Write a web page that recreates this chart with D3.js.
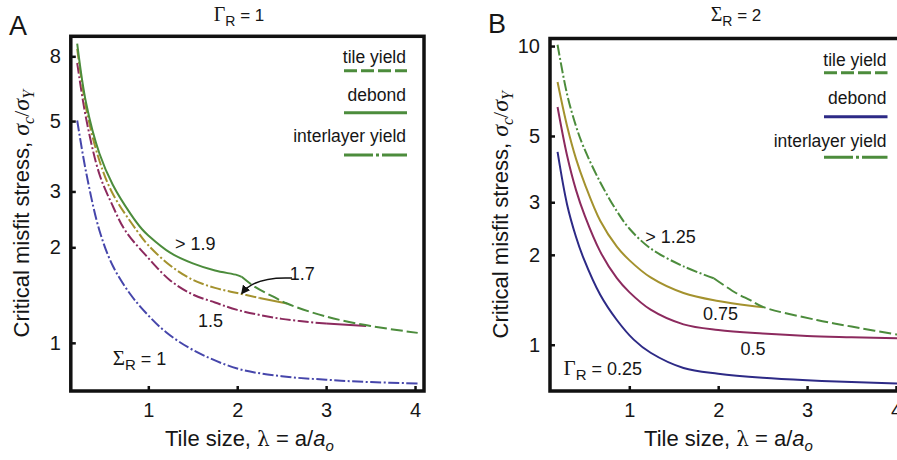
<!DOCTYPE html>
<html><head><meta charset="utf-8">
<script src="https://cdn.jsdelivr.net/npm/d3@7"></script>
<style>
body{margin:0;background:#fff}
svg{display:block}
text{font-family:"Liberation Sans",Arial,Helvetica,sans-serif;fill:#161616}
</style>
</head><body>
<svg id="c" width="897" height="460"></svg>
<script>
// ---------------- DATA ----------------
const ticksX = [1, 2, 3, 4];
const ticksYA = [1, 2, 3, 5, 8];
const ticksYB = [1, 2, 3, 5, 10];

// Panel A (Gamma_R = 1), series labelled by Sigma_R
const lamA_S1 = [0.2, 0.3, 0.45, 0.6, 0.8, 1.0, 1.2, 1.5, 2.0, 2.5, 3.0, 3.5, 4.03];
const valA_S1 = [5.02, 3.45, 2.26, 1.75, 1.42, 1.22, 1.08, 0.95, 0.83, 0.785, 0.765, 0.752, 0.745];
const lamA_S15 = [0.2, 0.3, 0.45, 0.6, 0.74, 1.0, 1.25, 1.5, 1.75, 2.0, 2.5, 3.0, 3.45];
const valA_S15 = [7.62, 5.1, 3.4, 2.7, 2.26, 1.85, 1.57, 1.42, 1.34, 1.27, 1.19, 1.15, 1.13];
const lamA_S17 = [0.2, 0.3, 0.45, 0.6, 0.87, 1.0, 1.25, 1.5, 1.75, 2.0, 2.25, 2.56];
const valA_S17 = [8.45, 5.5, 3.75, 2.95, 2.26, 2.03, 1.75, 1.58, 1.49, 1.435, 1.385, 1.33];
const lamA_S19 = [0.2, 0.3, 0.45, 0.6, 0.8, 0.93, 1.0, 1.25, 1.5, 1.75, 2.0, 2.05, 2.2, 2.4, 2.56, 3.0, 3.5, 4.03];
const valA_S19 = [8.77, 5.7, 3.95, 3.15, 2.55, 2.28, 2.18, 1.92, 1.78, 1.69, 1.635, 1.615, 1.50, 1.40, 1.33, 1.21, 1.13, 1.075];

// failure-mode changes (lambda where the governing mode switches)
const breaksA_S1 = [],     modesA_S1 = ["interlayer"];
const breaksA_S15 = [3.0], modesA_S15 = ["interlayer", "debond"];
const breaksA_S17 = [2.25],modesA_S17 = ["interlayer", "debond"];
const breaksA_S19 = [2.05],modesA_S19 = ["debond", "tile"];

// Panel B (Sigma_R = 2), series labelled by Gamma_R
const lamB_G025 = [0.193, 0.3, 0.4, 0.485, 0.673, 0.86, 1.05, 1.24, 1.61, 2.0, 2.5, 3.0, 3.5, 4.1];
const valB_G025 = [4.42, 2.95, 2.3, 1.95, 1.47, 1.21, 1.04, 0.94, 0.836, 0.80, 0.775, 0.76, 0.75, 0.74];
const lamB_G05 = [0.193, 0.3, 0.4, 0.5, 0.673, 0.86, 1.0, 1.24, 1.61, 2.0, 2.5, 3.0, 3.5, 4.1];
const valB_G05 = [6.25, 4.3, 3.3, 2.7, 2.05, 1.67, 1.50, 1.31, 1.17, 1.12, 1.09, 1.07, 1.06, 1.05];
const lamB_G075 = [0.193, 0.3, 0.4, 0.5, 0.673, 0.86, 1.0, 1.24, 1.61, 2.0, 2.36, 2.51];
const valB_G075 = [7.58, 5.4, 4.2, 3.45, 2.6, 2.13, 1.92, 1.68, 1.49, 1.40, 1.35, 1.336];
const lamB_G125 = [0.193, 0.3, 0.4, 0.485, 0.673, 0.86, 1.0, 1.24, 1.61, 1.95, 2.2, 2.36, 2.51, 3.11, 3.5, 4.1];
const valB_G125 = [10.1, 6.9, 5.4, 4.6, 3.5, 2.8, 2.45, 2.1, 1.83, 1.67, 1.49, 1.41, 1.336, 1.21, 1.15, 1.07];

const breaksB_G025 = [], modesB_G025 = ["debond"];
const breaksB_G05 = [],  modesB_G05 = ["debond"];
const breaksB_G075 = [], modesB_G075 = ["debond"];
const breaksB_G125 = [1.95], modesB_G125 = ["interlayer", "tile"];

const legendLabels = ["tile yield", "debond", "interlayer yield"];
const legendModes = ["tile", "debond", "interlayer"];

// ---------------- STYLE ----------------
const C = {
  green: "#4c8c3c", purple: "#8c2a5e", olive: "#a4922e",
  blueA: "#4646ab", navy: "#2d2a86"
};
const dashes = { debond: null, tile: "12,4", interlayer: "11,2.5,2,2.5" };
const legendDashes = { debond: null, tile: "13,4", interlayer: "29,3,3,3" };

const svg = d3.select("#c");

const panels = [
  {
    id: "A", left: 70.8, right: 424, top: 36.3, bottom: 391,
    xDom: [0.128, 4.101], yDom: [0.705, 9.25], yTicks: ticksYA,
    series: [
      { lam: lamA_S1, val: valA_S1, breaks: breaksA_S1, modes: modesA_S1, color: C.blueA },
      { lam: lamA_S15, val: valA_S15, breaks: breaksA_S15, modes: modesA_S15, color: C.purple },
      { lam: lamA_S17, val: valA_S17, breaks: breaksA_S17, modes: modesA_S17, color: C.olive },
      { lam: lamA_S19, val: valA_S19, breaks: breaksA_S19, modes: modesA_S19, color: C.green }
    ],
    legendColor: [C.green, C.green, C.green],
    legend: { right: 407, x0: 344, text: [62.7, 101, 141.7], line: [70.7, 112.7, 155] },
    letter: { x: 9, y: 35 },
    titleX: 239,
    ytitleX: 28.5
  },
  {
    id: "B", left: 550, right: 903, top: 38.5, bottom: 391,
    xDom: [0.108, 4.079], yDom: [0.70, 10.6], yTicks: ticksYB,
    series: [
      { lam: lamB_G025, val: valB_G025, breaks: breaksB_G025, modes: modesB_G025, color: C.navy },
      { lam: lamB_G05, val: valB_G05, breaks: breaksB_G05, modes: modesB_G05, color: C.purple },
      { lam: lamB_G075, val: valB_G075, breaks: breaksB_G075, modes: modesB_G075, color: C.olive },
      { lam: lamB_G125, val: valB_G125, breaks: breaksB_G125, modes: modesB_G125, color: C.green }
    ],
    legendColor: [C.green, C.navy, C.green],
    legend: { right: 887.5, x0: 824, text: [66, 104, 147.3], line: [72.7, 116.7, 157.3] },
    letter: { x: 488, y: 33 },
    titleX: 736,
    ytitleX: 508
  }
];

panels.forEach(p => {
  const x = d3.scaleLinear().domain(p.xDom).range([p.left, p.right]);
  const y = d3.scaleLog().domain(p.yDom).range([p.bottom, p.top]);
  p.x = x; p.y = y;
  const g = svg.append("g");

  const clipId = "clip" + p.id;
  svg.append("clipPath").attr("id", clipId).append("rect")
    .attr("x", p.left).attr("y", p.top)
    .attr("width", p.right - p.left).attr("height", p.bottom - p.top);

  // curves
  const cg = g.append("g").attr("clip-path", `url(#${clipId})`);
  const line = d3.line().x(d => x(d[0])).y(d => y(d[1])).curve(d3.curveCatmullRom.alpha(0.5));
  p.series.forEach(s => {
    const pts = s.lam.map((l, i) => [l, s.val[i]]);
    const bounds = [-Infinity, ...s.breaks, Infinity];
    s.modes.forEach((m, i) => {
      const seg = pts.filter(d => d[0] >= bounds[i] && d[0] <= bounds[i + 1]);
      cg.append("path").attr("d", line(seg))
        .attr("fill", "none").attr("stroke", s.color)
        .attr("stroke-width", 2)
        .attr("stroke-dasharray", dashes[m]);
    });
  });

  // axes (inward ticks)
  const ax = g.append("g").attr("transform", `translate(0,${p.bottom})`)
    .call(d3.axisBottom(x).tickValues(ticksX).tickSize(-5).tickPadding(12).tickFormat(d3.format("d")));
  const ay = g.append("g").attr("transform", `translate(${p.left},0)`)
    .call(d3.axisLeft(y).tickValues(p.yTicks).tickSize(-5).tickPadding(10).tickFormat(d3.format("d")));
  [ax, ay].forEach(a => {
    a.select(".domain").remove();
    a.selectAll(".tick line").attr("stroke", "#111").attr("stroke-width", 2.5);
    a.selectAll(".tick text").attr("font-size", 20).attr("font-family", "Liberation Sans, Arial, sans-serif").attr("fill", "#161616");
  });

  // frame
  g.append("rect").attr("x", p.left).attr("y", p.top)
    .attr("width", p.right - p.left).attr("height", p.bottom - p.top)
    .attr("fill", "none").attr("stroke", "#111").attr("stroke-width", 3.5);

  // legend
  legendLabels.forEach((lab, i) => {
    g.append("text").attr("x", p.legend.right - 1).attr("y", p.legend.text[i])
      .attr("text-anchor", "end").attr("font-size", 17.5).text(lab);
    g.append("line").attr("x1", p.legend.x0).attr("x2", p.legend.right)
      .attr("y1", p.legend.line[i]).attr("y2", p.legend.line[i])
      .attr("stroke", p.legendColor[i]).attr("stroke-width", 3)
      .attr("stroke-dasharray", legendDashes[legendModes[i]]);
  });

  // panel letter
  svg.append("text").attr("x", p.letter.x).attr("y", p.letter.y)
    .attr("font-size", 27).text(p.id);

  // x title
  const xt = svg.append("text").attr("x", (p.left + Math.min(p.right, 897 + 6)) / 2 + 2).attr("y", 446)
    .attr("text-anchor", "middle").attr("font-size", 22);
  xt.append("tspan").text("Tile size, ");
  xt.append("tspan").attr("font-family", "DejaVu Serif, serif").attr("font-size", 20).text("λ");
  xt.append("tspan").text(" = a/");
  xt.append("tspan").attr("font-style", "italic").text("a");
  xt.append("tspan").attr("font-style", "italic").attr("font-size", 15).attr("dy", 5).text("o");

  // y title
  const yt = svg.append("text")
    .attr("transform", `translate(${p.ytitleX},${(p.top + p.bottom) / 2}) rotate(-90)`)
    .attr("text-anchor", "middle").attr("font-size", 22);
  yt.append("tspan").text("Critical misfit stress, ");
  yt.append("tspan").attr("font-family", "Liberation Serif, serif").attr("font-style", "italic").attr("font-size", 24).text("σ");
  yt.append("tspan").attr("font-family", "Liberation Serif, serif").attr("font-style", "italic").attr("font-size", 16).attr("dy", 5).text("c");
  yt.append("tspan").attr("font-family", "Liberation Serif, serif").attr("font-size", 22).attr("dy", -5).text("/");
  yt.append("tspan").attr("font-family", "Liberation Serif, serif").attr("font-style", "italic").attr("font-size", 24).text("σ");
  yt.append("tspan").attr("font-family", "Liberation Serif, serif").attr("font-style", "italic").attr("font-size", 16).attr("dy", 5).text("Y");
});

// titles
function greekLabel(sel, sym, sub, rest, size) {
  sel.append("tspan").attr("font-family", "Liberation Serif, serif").attr("font-size", size + 3).text(sym);
  sel.append("tspan").attr("font-size", size - 3).attr("dy", 5).text(sub);
  sel.append("tspan").attr("font-size", size).attr("dy", -5).text(rest);
}
greekLabel(svg.append("text").attr("x", panels[0].titleX).attr("y", 21).attr("text-anchor", "middle"), "Γ", "R", " = 1", 17);
greekLabel(svg.append("text").attr("x", panels[1].titleX).attr("y", 21).attr("text-anchor", "middle"), "Σ", "R", " = 2", 17);

// curve annotations (in data coordinates)
const PA = panels[0], PB = panels[1];
function lab(p, l, v, t, size) {
  return svg.append("text").attr("x", p.x(l)).attr("y", p.y(v)).attr("font-size", size || 18).text(t);
}
lab(PA, 1.30, 1.96, "> 1.9");
lab(PA, 2.59, 1.576, "1.7");
lab(PA, 1.56, 1.12, "1.5");
greekLabel(svg.append("text").attr("x", PA.x(0.60)).attr("y", PA.y(0.85)), "Σ", "R", " = 1", 18);
lab(PB, 1.18, 2.19, "> 1.25");
lab(PB, 1.83, 1.21, "0.75");
lab(PB, 2.25, 0.926, "0.5");
greekLabel(svg.append("text").attr("x", PB.x(0.26)).attr("y", PB.y(0.794)), "Γ", "R", " = 0.25", 18);

// arrow for 1.7
svg.append("defs").append("marker").attr("id", "ah").attr("viewBox", "0 0 10 10")
  .attr("refX", 8).attr("refY", 5).attr("markerWidth", 6).attr("markerHeight", 6)
  .attr("orient", "auto-start-reverse")
  .append("path").attr("d", "M0,0 L10,5 L0,10 z").attr("fill", "#111");
const a0 = [PA.x(2.616), PA.y(1.60)], a1 = [PA.x(2.2), PA.y(1.62)], a2 = [PA.x(2.055), PA.y(1.435)];
svg.append("path").attr("d", `M${a0[0]},${a0[1]} Q${a1[0]},${a1[1]} ${a2[0]},${a2[1]}`)
  .attr("fill", "none").attr("stroke", "#111").attr("stroke-width", 1.5)
  .attr("marker-end", "url(#ah)");
</script>
</body></html>
